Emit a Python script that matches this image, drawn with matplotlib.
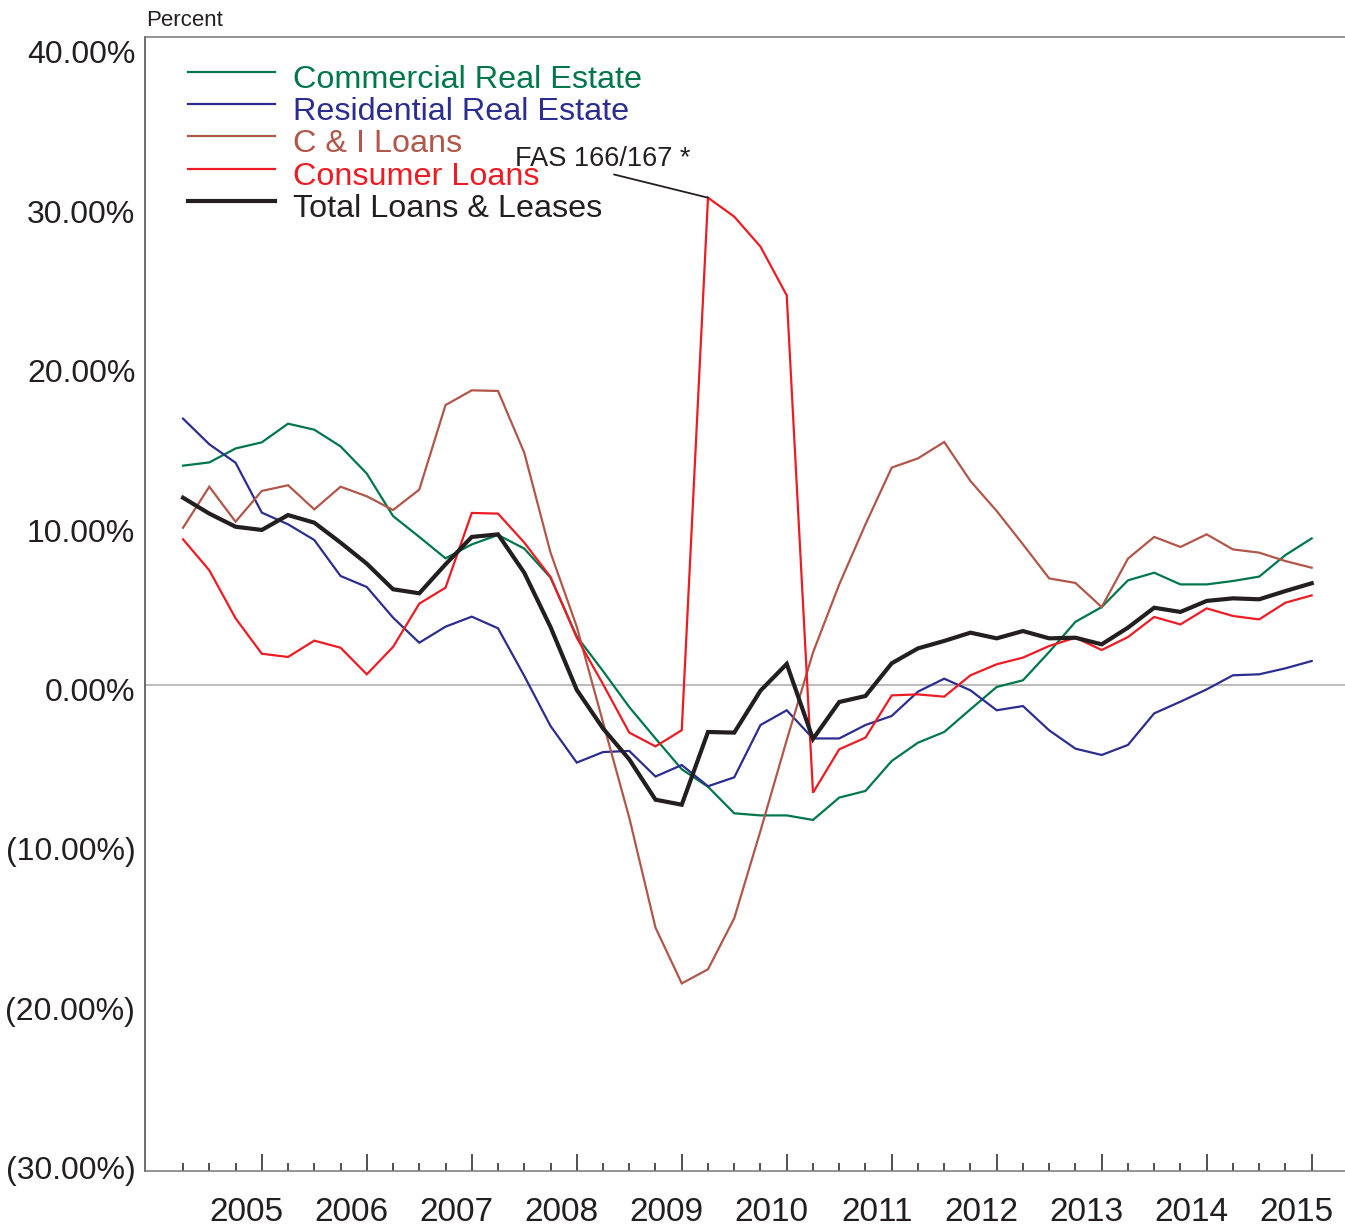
import matplotlib
matplotlib.use("Agg")
import matplotlib.pyplot as plt
import matplotlib.transforms as mtransforms
from matplotlib.ticker import FixedLocator, FuncFormatter

plt.rcParams['font.family'] = ['Liberation Sans', 'DejaVu Sans']

# Quarterly loan growth, 2004Q2 .. 2015Q1 (percent)
quarters = [f"{y}Q{q}" for y in range(2004, 2016) for q in range(1, 5)][1:45]
years = [str(y) for y in range(2005, 2016)]

commercial_re = [13.54, 13.74, 14.60, 14.98, 16.13, 15.76, 14.73, 13.05, 10.43, 9.14,
                 7.82, 8.68, 9.26, 8.42, 6.63, 3.00, 0.86, -1.36, -3.30, -5.20,
                 -6.28, -7.92, -8.05, -8.05, -8.33, -6.95, -6.54, -4.69, -3.56, -2.90,
                 -1.50, -0.12, 0.29, 2.04, 3.90, 4.81, 6.46, 6.93, 6.21, 6.21,
                 6.42, 6.69, 8.02, 9.05]
residential_re = [16.44, 14.86, 13.72, 10.64, 9.92, 8.95, 6.73, 6.05, 4.16, 2.61,
                  3.60, 4.22, 3.50, 0.56, -2.53, -4.79, -4.14, -4.07, -5.65, -4.94,
                  -6.25, -5.70, -2.47, -1.56, -3.30, -3.30, -2.47, -1.91, -0.41, 0.39,
                  -0.33, -1.56, -1.30, -2.80, -3.93, -4.32, -3.70, -1.75, -1.03, -0.27,
                  0.60, 0.66, 1.03, 1.48]
ci_loans = [9.71, 12.24, 10.08, 11.98, 12.33, 10.84, 12.24, 11.65, 10.80, 12.06,
            17.28, 18.19, 18.15, 14.34, 8.17, 3.60, -2.30, -8.19, -14.98, -18.42,
            -17.55, -14.40, -9.00, -3.40, 2.00, 6.21, 9.92, 13.42, 13.99, 15.00,
            12.59, 10.74, 8.68, 6.58, 6.30, 4.81, 7.80, 9.14, 8.52, 9.30,
            8.37, 8.17, 7.65, 7.24]
consumer = [8.99, 7.08, 4.12, 1.93, 1.73, 2.74, 2.30, 0.66, 2.35, 5.02,
            6.01, 10.62, 10.58, 8.79, 6.67, 2.92, 0.05, -2.94, -3.79, -2.79,
            30.08, 28.91, 27.06, 24.05, -6.65, -3.97, -3.25, -0.64, -0.58, -0.72,
            0.60, 1.28, 1.69, 2.41, 2.92, 2.16, 2.96, 4.20, 3.74, 4.73,
            4.26, 4.05, 5.08, 5.53]
total = [11.56, 10.58, 9.77, 9.57, 10.49, 10.02, 8.79, 7.49, 5.91, 5.66,
         7.45, 9.14, 9.30, 6.93, 3.58, -0.30, -2.68, -4.59, -7.08, -7.39,
         -2.90, -2.94, -0.35, 1.30, -3.33, -1.05, -0.68, 1.34, 2.26, 2.72,
         3.23, 2.88, 3.33, 2.88, 2.92, 2.51, 3.54, 4.77, 4.51, 5.19,
         5.35, 5.29, 5.80, 6.28]

series = [
    ("Commercial Real Estate", commercial_re, "#00774a", 1.6),
    ("Residential Real Estate", residential_re, "#2b2e8f", 1.6),
    ("C & I Loans", ci_loans, "#b0574a", 1.6),
    ("Consumer Loans", consumer, "#ed1c24", 1.6),
    ("Total Loans & Leases", total, "#231f20", 3.0),
]

W, H = 1345, 1230
fig = plt.figure(figsize=(W / 100, H / 100), dpi=100)
ax = fig.add_axes([145 / W, 1 - 1171 / H, 1200 / W, (1171 - 37) / H])

x = list(range(len(quarters)))
ax.axhline(0, color="#bdbdbd", lw=1.5, zorder=1)
for name, vals, color, lw in series:
    ax.plot(x, vals, color=color, lw=lw, zorder=3, solid_joinstyle="miter")

ax.set_xlim(-1.45, 44.27)
ax.set_ylim(-30, 40)

# y axis: percent labels, negatives in parentheses; the labels sit on a
# slightly tighter spacing than the gridlines, so nudge each one
yticks = list(range(-30, 41, 10))
ax.set_yticks(yticks)
ax.yaxis.set_major_formatter(FuncFormatter(
    lambda v, p: f"({abs(v):.2f}%)" if v < 0 else f"{v:.2f}%"))
ax.tick_params(axis="y", length=0, pad=7, labelsize=23, labelcolor="#231f20")
for v, lab in zip(yticks, ax.get_yticklabels()):
    dy = -(4.5 + 0.26 * v) / 100
    lab.set_transform(lab.get_transform() +
                      mtransforms.ScaledTranslation(0, dy, fig.dpi_scale_trans))

# x axis: a tick per quarter, year labels on Q1
q1_idx = [i for i, q in enumerate(quarters) if q.endswith("Q1")]
ax.xaxis.set_major_locator(FixedLocator(q1_idx))
ax.xaxis.set_minor_locator(FixedLocator([i for i in x if i not in q1_idx]))
ax.set_xticklabels(years)
ax.tick_params(axis="x", which="major", direction="in", length=12, width=1.1,
               pad=19, labelsize=24, labelcolor="#231f20", color="#231f20")
ax.tick_params(axis="x", which="minor", direction="in", length=6, width=1.1,
               color="#231f20")
xlab_shift = mtransforms.ScaledTranslation(-15 / 100, 0, fig.dpi_scale_trans)
for lab in ax.get_xticklabels():
    lab.set_transform(lab.get_transform() + xlab_shift)

ax.spines["right"].set_visible(False)
ax.spines["left"].set_color("#444444")
ax.spines["top"].set_color("#777777")
ax.spines["bottom"].set_color("#777777")
for s in ("left", "top", "bottom"):
    ax.spines[s].set_linewidth(1.1)

fig.text(146 / W, 1 - 20 / H, "Percent", fontsize=16, va="center", ha="left",
         color="#231f20")

# legend drawn by hand: short line followed by coloured label
line_y = [72, 104, 136, 169, 201]
for (name, vals, color, lw), ly in zip(series, line_y):
    fig.add_artist(plt.Line2D([188 / W, 275 / W], [1 - ly / H, 1 - ly / H],
                              color=color, lw=lw))
    fig.text(293 / W, 1 - (ly + 8) / H, name, fontsize=23.3, color=color,
             va="center", ha="left")

ax.annotate("FAS 166/167 *", xy=(20, consumer[20]), xycoords="data",
            xytext=(-193, 26), textcoords="offset pixels",
            fontsize=19.5, color="#231f20", ha="left", va="bottom",
            arrowprops=dict(arrowstyle="-", color="#231f20", lw=1.3,
                            shrinkA=0, shrinkB=0, relpos=(0.47, 0.05)))

fig.savefig("out.png", dpi=100)
